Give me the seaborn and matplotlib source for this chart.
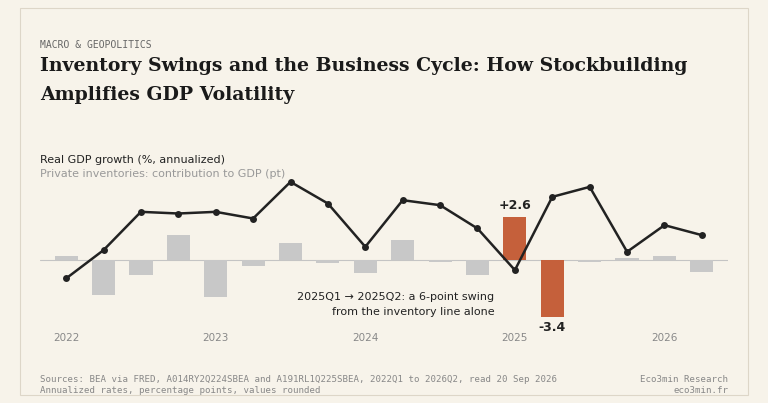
import matplotlib
matplotlib.use("Agg")
import matplotlib.pyplot as plt
import seaborn as sns
import pandas as pd
from matplotlib.patches import Rectangle

quarters = [f"{y}Q{q}" for y in range(2022, 2027) for q in range(1, 5)][:18]
gdp = [-1.1, 0.6, 2.9, 2.8, 2.9, 2.5, 4.7, 3.4, 0.8, 3.6, 3.3, 1.9, -0.6, 3.8, 4.4, 0.5, 2.1, 1.5]
inventories = [0.25, -2.1, -0.9, 1.5, -2.2, -0.35, 1.0, -0.15, -0.8, 1.2, -0.1, -0.9, 2.6, -3.4, -0.1, 0.15, 0.25, -0.7]
year_labels = ["2022", "2023", "2024", "2025", "2026"]

BG = "#f7f3ea"
sns.set_theme(style="white")
plt.rcParams['font.family'] = ['DejaVu Sans']

df = pd.DataFrame({"q": quarters, "i": range(len(quarters)), "gdp": gdp, "inv": inventories})
colors = ["#c5603b" if q in ("2025Q1", "2025Q2") else "#c8c8c8" for q in quarters]

fig = plt.figure(figsize=(7.68, 4.03), dpi=100, facecolor=BG)
ax = fig.add_axes([0.052, 0.181, 0.896, 0.471])
ax.set_facecolor(BG)
ax.axhline(0, color="#c4c4c4", lw=0.8, zorder=0)
sns.barplot(data=df, x="i", y="inv", hue="i", palette=colors, legend=False, width=0.62, ax=ax,
            saturation=1, linewidth=0, zorder=1)
sns.lineplot(data=df, x="i", y="gdp", color="#222222", lw=1.8, marker="o", markersize=5,
             markeredgewidth=0, ax=ax, zorder=3)
ax.set_xlim(-0.7, 17.7)
ax.set_ylim(-4.2, 7.2)
for s in ax.spines.values():
    s.set_visible(False)
ax.set_yticks([])
ax.set_xticks([0, 4, 8, 12, 16], year_labels)
ax.tick_params(axis="x", length=0, labelsize=7.5, labelcolor="#888888", pad=2)
ax.set_xlabel(""); ax.set_ylabel("")

i1 = quarters.index("2025Q1"); i2 = quarters.index("2025Q2")
ax.text(i1, inventories[i1] + 0.3, f"+{inventories[i1]}", ha="center", va="bottom", fontsize=9, fontweight="bold", color="#222222")
ax.text(i2, inventories[i2] - 0.25, f"{inventories[i2]}", ha="center", va="top", fontsize=9, fontweight="bold", color="#222222")
ax.text(11.45, -2.65, "2025Q1 → 2025Q2: a 6-point swing\nfrom the inventory line alone", ha="right", va="center",
        fontsize=8, color="#222222", linespacing=1.6)

fig.text(0.052, 0.603, "Real GDP growth (%, annualized)", fontsize=8, color="#222222", va="center")
fig.text(0.052, 0.568, "Private inventories: contribution to GDP (pt)", fontsize=8, color="#999999", va="center")

fig.text(0.052, 0.888, "MACRO & GEOPOLITICS", family="DejaVu Sans Mono", fontsize=7, color="#666666", va="center")
fig.text(0.052, 0.80, "Inventory Swings and the Business Cycle: How Stockbuilding\nAmplifies GDP Volatility",
         family="DejaVu Serif", fontweight="bold", fontsize=13.6, color="#1a1a1a", va="center", linespacing=1.75)

fig.text(0.052, 0.045, "Sources: BEA via FRED, A014RY2Q224SBEA and A191RL1Q225SBEA, 2022Q1 to 2026Q2, read 20 Sep 2026\nAnnualized rates, percentage points, values rounded",
         family="DejaVu Sans Mono", fontsize=6.6, color="#888888", va="center", linespacing=1.3)
fig.text(0.948, 0.045, "Eco3min Research\neco3min.fr", family="DejaVu Sans Mono", fontsize=6.6, color="#888888",
         va="center", ha="right", linespacing=1.3)
fig.add_artist(Rectangle((0.026, 0.02), 0.948, 0.96, transform=fig.transFigure, fill=False,
                         edgecolor="#ddd6c8", lw=0.8))
fig.savefig("out.png", dpi=100, facecolor=BG)
